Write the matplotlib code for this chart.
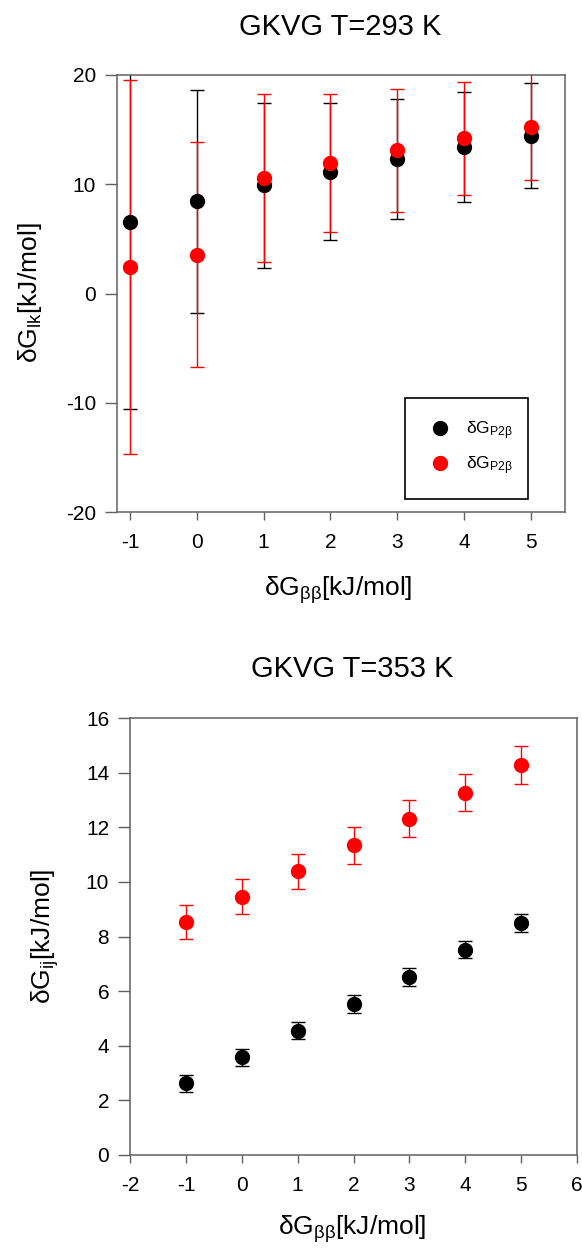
#!/usr/bin/env python3
import matplotlib
matplotlib.use("Agg")
import matplotlib.pyplot as plt

plt.rcParams['font.family'] = ['Liberation Sans', 'DejaVu Sans']
plt.rcParams['mathtext.fontset'] = 'custom'
plt.rcParams['mathtext.rm'] = 'Liberation Sans'
plt.rcParams['mathtext.it'] = 'Liberation Sans'
plt.rcParams['mathtext.sf'] = 'Liberation Sans'
plt.rcParams['axes.unicode_minus'] = False

# dG_bb values on the x axis
dg_bb = [-1, 0, 1, 2, 3, 4, 5]

# T = 293 K
black_293 = [6.55, 8.45, 9.9, 11.15, 12.3, 13.4, 14.45]
black_293_err = [17.1, 10.2, 7.55, 6.25, 5.5, 5.07, 4.8]
red_293 = [2.4, 3.55, 10.6, 11.95, 13.1, 14.2, 15.25]
red_293_err = [17.1, 10.3, 7.7, 6.35, 5.6, 5.18, 4.9]

# T = 353 K
black_353 = [2.62, 3.58, 4.55, 5.53, 6.52, 7.51, 8.5]
black_353_err = [0.3, 0.31, 0.31, 0.32, 0.32, 0.31, 0.33]
red_353 = [8.53, 9.45, 10.39, 11.34, 12.31, 13.27, 14.27]
red_353_err = [0.61, 0.64, 0.645, 0.68, 0.68, 0.68, 0.7]

legend_labels = ["δG$_{P2β}$", "δG$_{P2β}$"]

W, H = 582, 1251
fig = plt.figure(figsize=(W / 100, H / 100), dpi=100)


def box(left, right, top, bottom):
    return [left / W, 1 - bottom / H, (right - left) / W, (bottom - top) / H]


def style(ax, ylen=9, xlen=6):
    for sp in ax.spines.values():
        sp.set_color('#606060')
        sp.set_linewidth(1.1)
    ax.tick_params(axis='y', direction='out', length=ylen, width=1, color='#606060',
                   labelsize=15, pad=6)
    ax.tick_params(axis='x', direction='out', length=xlen, width=1, color='#606060',
                   labelsize=15, pad=9)


def draw(ax, ys, errs, colors):
    for y, e, c in zip(ys, errs, colors):
        ax.errorbar(dg_bb, y, yerr=e, fmt='o', color=c, ecolor=c, markersize=10,
                    elinewidth=1, capsize=5, capthick=1)


# top panel
ax1 = fig.add_axes(box(117, 565, 75, 512))
draw(ax1, [black_293, red_293], [black_293_err, red_293_err], ['black', 'red'])
ax1.set_xlim(-1.195, 5.51)
ax1.set_ylim(-20, 20)
ax1.set_xticks(dg_bb)
ax1.set_yticks([-20, -10, 0, 10, 20])
style(ax1)

h1 = ax1.plot([], [], 'o', color='black', markersize=10)[0]
h2 = ax1.plot([], [], 'o', color='red', markersize=10)[0]
leg = ax1.legend([h1, h2], legend_labels, loc='upper left',
                 bbox_to_anchor=(0.643, 0.0755, 0.274, 0.1855), mode='expand',
                 fancybox=False, edgecolor='black', framealpha=1, fontsize=12.5,
                 handletextpad=0.75, borderpad=1.25, labelspacing=0.7,
                 handlelength=1.5, borderaxespad=0)
leg.get_frame().set_linewidth(1.2)

fig.text(340 / W, 1 - 27 / H, "GKVG T=293 K", ha='center', va='center', fontsize=21)
fig.text(338 / W, 1 - 590 / H, "δG$_{ββ}$[kJ/mol]", ha='center', va='center', fontsize=19)
fig.text(30 / W, 1 - 293 / H, "δG$_{lk}$[kJ/mol]", ha='center', va='center',
         fontsize=19, rotation=90)

# bottom panel
ax2 = fig.add_axes(box(130, 577, 718, 1155))
draw(ax2, [black_353, red_353], [black_353_err, red_353_err], ['black', 'red'])
ax2.set_xlim(-2, 6)
ax2.set_ylim(0, 16)
ax2.set_xticks(range(-2, 7))
ax2.set_yticks(range(0, 17, 2))
style(ax2)

fig.text(352 / W, 1 - 669 / H, "GKVG T=353 K", ha='center', va='center', fontsize=21)
fig.text(352 / W, 1 - 1229 / H, "δG$_{ββ}$[kJ/mol]", ha='center', va='center', fontsize=19)
fig.text(45 / W, 1 - 936 / H, "δG$_{ij}$[kJ/mol]", ha='center', va='center',
         fontsize=19, rotation=90)

fig.savefig("out.png", dpi=100)
